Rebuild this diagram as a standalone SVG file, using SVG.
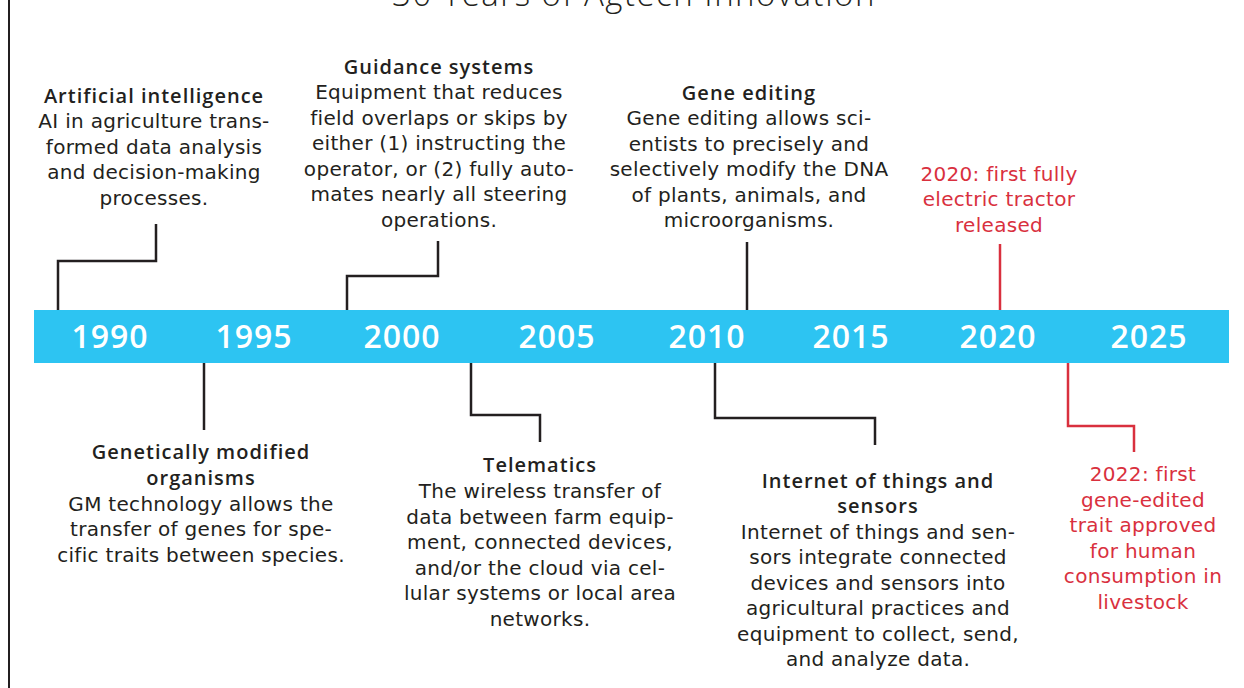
<svg xmlns="http://www.w3.org/2000/svg" width="1244" height="688" viewBox="0 0 1244 688">
<style>
text{font-family:"DejaVu Sans","Open Sans",sans-serif;text-anchor:middle;}
.h{font-family:"Open Sans","Liberation Sans",sans-serif;font-size:20px;font-weight:600;fill:#231f20;letter-spacing:1px;}
.b{font-size:20px;fill:#231f20;letter-spacing:0.3px;}
.r{font-size:20px;fill:#d9303e;letter-spacing:0.3px;}
.yr{font-family:"Open Sans","Liberation Sans",sans-serif;font-size:32px;fill:#ffffff;font-weight:600;letter-spacing:1px;}
.c{fill:none;stroke:#231f20;stroke-width:2.5;}
.cr{fill:none;stroke:#d9303e;stroke-width:2.5;}
</style>
<rect width="1244" height="688" fill="#ffffff"/>
<line x1="9" y1="0" x2="9" y2="688" stroke="#231f20" stroke-width="2"/>
<text x="634" y="6" style="font-family:'Open Sans',sans-serif;font-size:33px;font-weight:300;fill:#231f20;letter-spacing:1.5px">30 Years of Agtech Innovation</text>
<g id="timeline">
<rect x="34" y="310" width="1195" height="53" fill="#2dc4f2"/>
<text class="yr" x="110" y="348">1990</text>
<text class="yr" x="254" y="348">1995</text>
<text class="yr" x="402" y="348">2000</text>
<text class="yr" x="557" y="348">2005</text>
<text class="yr" x="707" y="348">2010</text>
<text class="yr" x="851" y="348">2015</text>
<text class="yr" x="998" y="348">2020</text>
<text class="yr" x="1149" y="348">2025</text>
</g>
<g id="connectors">
<polyline class="c" points="58,310 58,261 156,261 156,224"/>
<polyline class="c" points="347,310 347,276 438,276 438,241"/>
<polyline class="c" points="747,310 747,242"/>
<polyline class="cr" points="1000,310 1000,244"/>
<polyline class="c" points="204,363 204,430"/>
<polyline class="c" points="471,363 471,415 540,415 540,442"/>
<polyline class="c" points="715,363 715,418 875,418 875,445"/>
<polyline class="cr" points="1068,363 1068,426 1134,426 1134,452"/>
</g>
<g id="ai">
<text class="h" x="154" y="103">Artificial intelligence</text>
<text class="b" x="154" y="128">AI in agriculture trans-</text>
<text class="b" x="154" y="154">formed data analysis</text>
<text class="b" x="154" y="179">and decision-making</text>
<text class="b" x="154" y="205">processes.</text>
</g>
<g id="guidance">
<text class="h" x="439" y="74">Guidance systems</text>
<text class="b" x="439" y="99">Equipment that reduces</text>
<text class="b" x="439" y="125">field overlaps or skips by</text>
<text class="b" x="439" y="150">either (1) instructing the</text>
<text class="b" x="439" y="176">operator, or (2) fully auto-</text>
<text class="b" x="439" y="201">mates nearly all steering</text>
<text class="b" x="439" y="227">operations.</text>
</g>
<g id="gene-editing">
<text class="h" x="749" y="100">Gene editing</text>
<text class="b" x="749" y="125">Gene editing allows sci-</text>
<text class="b" x="749" y="151">entists to precisely and</text>
<text class="b" x="749" y="176">selectively modify the DNA</text>
<text class="b" x="749" y="202">of plants, animals, and</text>
<text class="b" x="749" y="227">microorganisms.</text>
</g>
<g id="tractor">
<text class="r" x="999" y="181">2020: first fully</text>
<text class="r" x="999" y="206">electric tractor</text>
<text class="r" x="999" y="232">released</text>
</g>
<g id="gmo">
<text class="h" x="201" y="459">Genetically modified</text>
<text class="h" x="201" y="485">organisms</text>
<text class="b" x="201" y="511">GM technology allows the</text>
<text class="b" x="201" y="536">transfer of genes for spe-</text>
<text class="b" x="201" y="562">cific traits between species.</text>
</g>
<g id="telematics">
<text class="h" x="540" y="472">Telematics</text>
<text class="b" x="540" y="498">The wireless transfer of</text>
<text class="b" x="540" y="524">data between farm equip-</text>
<text class="b" x="540" y="549">ment, connected devices,</text>
<text class="b" x="540" y="575">and/or the cloud via cel-</text>
<text class="b" x="540" y="600">lular systems or local area</text>
<text class="b" x="540" y="626">networks.</text>
</g>
<g id="iot">
<text class="h" x="878" y="488">Internet of things and</text>
<text class="h" x="878" y="513">sensors</text>
<text class="b" x="878" y="539">Internet of things and sen-</text>
<text class="b" x="878" y="564">sors integrate connected</text>
<text class="b" x="878" y="590">devices and sensors into</text>
<text class="b" x="878" y="615">agricultural practices and</text>
<text class="b" x="878" y="641">equipment to collect, send,</text>
<text class="b" x="878" y="666">and analyze data.</text>
</g>
<g id="gene-edited-trait">
<text class="r" x="1143" y="481">2022: first</text>
<text class="r" x="1143" y="507">gene-edited</text>
<text class="r" x="1143" y="532">trait approved</text>
<text class="r" x="1143" y="558">for human</text>
<text class="r" x="1143" y="583">consumption in</text>
<text class="r" x="1143" y="609">livestock</text>
</g>
</svg>
